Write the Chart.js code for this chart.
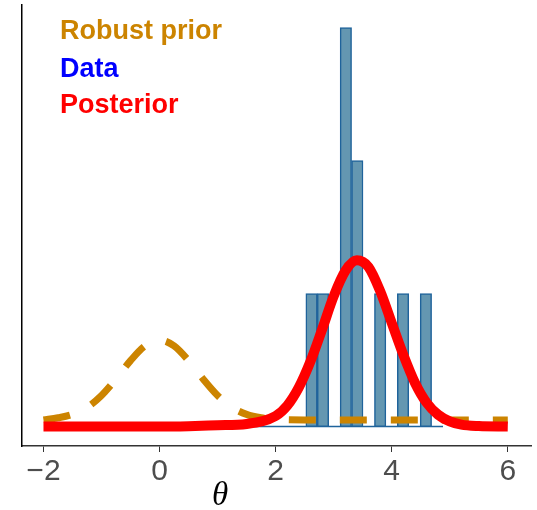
<!DOCTYPE html>
<html>
<head>
<meta charset="utf-8">
<script src="https://cdn.jsdelivr.net/npm/chart.js@4.4.0/dist/chart.umd.min.js"></script>
<style>
  body { margin: 0; background: #fff; }
</style>
</head>
<body>
<canvas id="myChart" width="537" height="510"></canvas>
<script>
// histogram of the data (bin centres and counts)
const binCenters = [1.634, 1.831, 2.028, 2.225, 2.422, 2.619, 2.816, 3.013, 3.210, 3.407, 3.604, 3.801, 3.998, 4.195, 4.392, 4.589, 4.786];
const binCounts  = [0, 0, 0, 0, 0, 1, 1, 0, 3, 2, 0, 1, 0, 1, 0, 1, 0];
const histRange  = [1.535, 4.884];

// robust prior (dashed orange)
const priorX = [-2, -1.75, -1.5, -1.25, -1, -0.75, -0.5, -0.25, 0, 0.25, 0.5, 0.75, 1, 1.25, 1.5, 1.75, 2, 2.5, 3, 4, 5, 6];
const priorY = [0.05, 0.066, 0.092, 0.144, 0.234, 0.358, 0.496, 0.607, 0.65, 0.607, 0.496, 0.358, 0.234, 0.144, 0.092, 0.066, 0.055, 0.05, 0.05, 0.05, 0.05, 0.05];

// posterior (red)
const postX = [-2, -1, 0, 0.5, 1, 1.5, 2, 2.2, 2.4, 2.6, 2.8, 3, 3.2, 3.4, 3.6, 3.8, 4, 4.2, 4.4, 4.6, 4.8, 5, 5.2, 5.5, 6];
const postY = [0, 0, 0, 0.003, 0.01, 0.02, 0.08, 0.158, 0.295, 0.49, 0.73, 0.98, 1.17, 1.25, 1.2, 1.02, 0.78, 0.54, 0.33, 0.18, 0.089, 0.039, 0.015, 0.004, 0];

const xTicks = [-2, 0, 2, 4, 6];
const legendLabels = ['Robust prior', 'Data', 'Posterior'];
const legendColors = ['#CC8400', '#0000FF', '#FF0000'];

function toPoints(xs, ys) {
    return xs.map(function (x, i) { return { x: x, y: ys[i] }; });
}

const textPlugin = {
    id: 'texts',
    afterDraw: function (chart) {
        const c = chart.ctx;
        c.save();
        c.textAlign = 'left';
        c.textBaseline = 'alphabetic';
        c.font = 'bold 27px "Liberation Sans", Arial, sans-serif';
        var baselines = [39, 77, 113];
        for (var i = 0; i < legendLabels.length; i++) {
            c.fillStyle = legendColors[i];
            c.fillText(legendLabels[i], 60, baselines[i]);
        }
        c.fillStyle = '#000';
        c.font = 'italic 33px "Liberation Serif", "DejaVu Serif", serif';
        c.textAlign = 'center';
        c.textBaseline = 'middle';
        c.fillText('\u03B8', 220, 496);
        c.restore();
    }
};

const ctx = document.getElementById('myChart').getContext('2d');
var graphData = {
    type: 'line',
    data: {
        datasets: [{
            label: 'Posterior',
            data: toPoints(postX, postY),
            borderColor: '#FF0000',
            borderWidth: 10,
            pointRadius: 0,
            cubicInterpolationMode: 'monotone',
            order: 0
        }, {
            label: 'Robust prior',
            data: toPoints(priorX, priorY),
            borderColor: '#CC8400',
            borderWidth: 7,
            borderDash: [27, 24],
            pointRadius: 0,
            cubicInterpolationMode: 'monotone',
            order: 1
        }, {
            label: 'Data',
            type: 'bar',
            data: toPoints(binCenters, binCounts),
            backgroundColor: '#6497B1',
            borderColor: '#1F639B',
            borderWidth: 1.5,
            borderSkipped: false,
            barPercentage: 1,
            categoryPercentage: 1,
            order: 2
        }, {
            label: 'base',
            data: toPoints(histRange, [0, 0]),
            borderColor: '#1F639B',
            borderWidth: 1.5,
            pointRadius: 0,
            order: 3
        }]
    },
    options: {
        responsive: false,
        animation: false,
        layout: { padding: { left: 22, top: 5, right: 6, bottom: 18 } },
        plugins: {
            legend: { display: false },
            tooltip: { enabled: false }
        },
        scales: {
            x: {
                type: 'linear',
                min: -2.37,
                max: 6.40,
                offset: false,
                afterBuildTicks: function (axis) {
                    axis.ticks = xTicks.map(function (v) { return { value: v }; });
                },
                grid: {
                    display: true,
                    drawOnChartArea: false,
                    drawTicks: true,
                    tickLength: 6,
                    color: '#333333',
                    offset: false
                },
                border: { display: true, color: '#333333', width: 1.5 },
                ticks: {
                    color: '#4D4D4D',
                    padding: 2,
                    maxRotation: 0,
                    font: { family: '"Liberation Sans", Arial, sans-serif', size: 30 },
                    callback: function (v) { return v < 0 ? '\u2212' + Math.abs(v) : String(v); }
                }
            },
            y: {
                type: 'linear',
                min: -0.146,
                max: 3.17,
                grid: { display: false, drawTicks: false },
                border: { display: true, color: '#000000', width: 1.5 },
                ticks: { display: false }
            }
        }
    },
    plugins: [textPlugin]
};
const myChart = new Chart(ctx, graphData);
</script>
</body>
</html>
